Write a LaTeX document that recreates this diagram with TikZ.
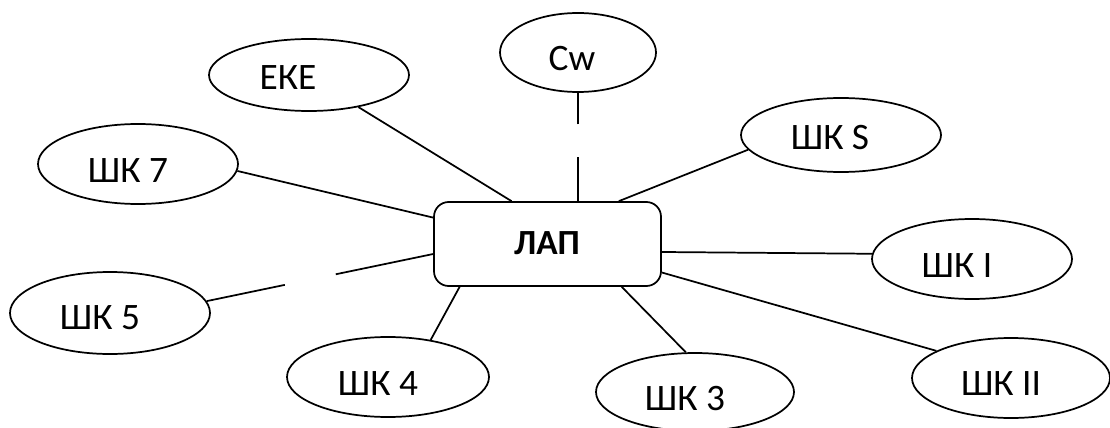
\documentclass[tikz,border=0pt]{standalone}
\usepackage{fontspec}
\setmainfont{Carlito}
\usetikzlibrary{shapes.geometric,calc}
\begin{document}
\begin{tikzpicture}[x=0.75pt,y=-0.75pt,
  bub/.style={ellipse,draw,line width=1.3pt,inner sep=0pt},
  lbl/.style={font=\fontsize{28}{32}\selectfont,inner sep=0pt},
  conn/.style={line width=1.3pt}]
\useasboundingbox (0,0) rectangle (1110,428);
% centre
\node[draw,rounded corners=11pt,line width=1.3pt,minimum width=170.25pt,minimum height=63pt,inner sep=0pt] (lap) at (547.5,244) {};
\node[lbl,font=\fontsize{26.5}{30}\selectfont\bfseries] (laptxt) at (547,243) {ЛАП};
% ellipses
\node[bub,minimum width=117pt,minimum height=59.25pt] (cw) at (578,52.5) {};
\node[bub,minimum width=150pt,minimum height=54pt] (eke) at (309,75) {};
\node[bub,minimum width=150pt,minimum height=60pt] (sk7) at (138,164) {};
\node[bub,minimum width=150pt,minimum height=55.5pt] (sks) at (841,135) {};
\node[bub,minimum width=150pt,minimum height=60pt] (sk1) at (972,259) {};
\node[bub,minimum width=148.5pt,minimum height=60pt] (sk2) at (1011,378) {};
\node[bub,minimum width=148.5pt,minimum height=58.5pt] (sk3) at (695,392) {};
\node[bub,minimum width=151.5pt,minimum height=60pt] (sk4) at (388,377) {};
\node[bub,minimum width=150pt,minimum height=61.5pt] (sk5) at (110,313) {};
% labels
\node[lbl] (cwt) at (572,59) {Cw};
\node[lbl] (eket) at (288,78) {ЕКЕ};
\node[lbl] (sk7t) at (128,171) {ШК 7};
\node[lbl] (skst) at (830,138) {ШК S};
\node[lbl] (sk1t) at (957,266) {ШК I};
\node[lbl] (sk2t) at (1001,384) {ШК II};
\node[lbl] (sk3t) at (685,399) {ШК 3};
\node[lbl] (sk4t) at (378,384) {ШК 4};
\node[lbl] (sk5t) at (100,318) {ШК 5};
% connectors
\coordinate (cwa) at ($(lap.north)!0.41!(cw.south)$);
\coordinate (cwb) at ($(lap.north)!0.71!(cw.south)$);
\draw[conn] (lap.north -| cw.south) -- (cwa -| cw.south);
\draw[conn] (cwb -| cw.south) -- (cw.south);
\draw[conn] (lap.130.2) -- (eke.-33.7);
\draw[conn] (lap.31.1) -- (sks.189);
\draw[conn] (lap.167.6) -- (sk7.-4.6);
\draw[conn] (lap.-4) -- (sk1.177.7);
\draw[conn] (lap.-14.3) -- (sk2.160);
\draw[conn] (lap.-30.8) -- (sk3.103);
\draw[conn] (lap.206.4) -- (sk4.41);
\coordinate (s5a) at ($(lap.185.5)!0.43!(sk5.7.9)$);
\coordinate (s5b) at ($(lap.185.5)!0.655!(sk5.7.9)$);
\draw[conn] (lap.185.5) -- (s5a);
\draw[conn] (s5b) -- (sk5.7.9);
\end{tikzpicture}
\end{document}
